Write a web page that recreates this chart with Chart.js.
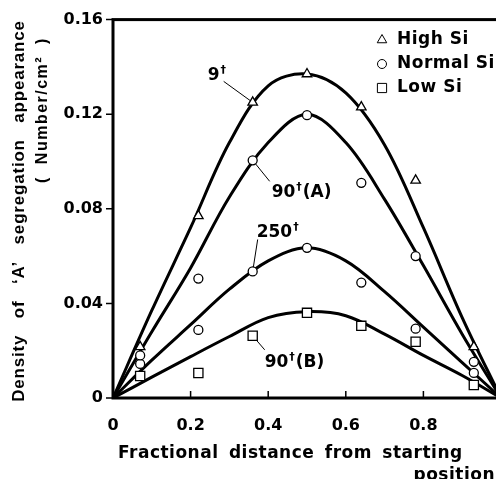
<!DOCTYPE html>
<html>
<head>
<meta charset="utf-8">
<script src="https://cdn.jsdelivr.net/npm/chart.js@4.4.1/dist/chart.umd.min.js"></script>
<style>
  html, body { margin: 0; padding: 0; background: #fff; overflow: hidden; }
  #wrap { width: 512px; height: 479px; }
</style>
</head>
<body>
<div id="wrap"><canvas id="segChart" width="512" height="479"></canvas></div>
<script>
// Sampling positions along the casting (fractional distance)
const samplePositions = [0.07, 0.22, 0.36, 0.5, 0.64, 0.78, 0.93];
// Measured densities (Number/cm2)
const highSi9t = [0.0216, 0.077, 0.125, 0.137, 0.123, 0.092, 0.0216];
const normalSi90tA = [0.018, 0.0505, 0.1005, 0.1196, 0.091, 0.060, 0.0153];
const normalSi250t = [0.0144, 0.0288, 0.0535, 0.0635, 0.0488, 0.0293, 0.0106];
const lowSi90tB = [0.0093, 0.0106, 0.0263, 0.036, 0.0305, 0.0238, 0.0055];

// Smoothed curves, read every 0.1 along the distance
const curvePositions = [0, 0.1, 0.2, 0.3, 0.4, 0.5, 0.6, 0.7, 0.8, 0.9, 1.0];
const curve9t = [0, 0.037, 0.072, 0.108, 0.132, 0.137, 0.129, 0.107, 0.072, 0.034, 0];
const curve90tA = [0, 0.028, 0.055, 0.085, 0.108, 0.120, 0.108, 0.084, 0.056, 0.027, 0];
const curve250t = [0, 0.016, 0.031, 0.046, 0.058, 0.0635, 0.058, 0.045, 0.030, 0.015, 0];
const curve90tB = [0, 0.0088, 0.0175, 0.026, 0.034, 0.0365, 0.0348, 0.027, 0.018, 0.0095, 0];

const xTicks = [0, 0.2, 0.4, 0.6, 0.8];
const yTicks = [0, 0.04, 0.08, 0.12, 0.16];

const legendLabels = ['High Si', 'Normal Si', 'Low Si'];
const legendStyles = ['triangle', 'circle', 'rect'];

// Curve tags: main text, superscript, trailing text
const tagMain = ['9', '90', '250', '90'];
const tagTail = ['', '(A)', '', '(B)'];
const tagSup = '\u2020';

const BOLD_SANS = '"DejaVu Sans", sans-serif';
const HELV = '"Liberation Sans", Arial, sans-serif';

function toPoints(xs, ys) {
   return xs.map((x, i) => ({ x: x, y: ys[i] }));
}

function curveDataset(values) {
   return {
      data: toPoints(curvePositions, values),
      showLine: true,
      borderColor: '#000',
      borderWidth: 3,
      pointRadius: 0,
      tension: 0.35,
      order: 2
   };
}

function markerDataset(values, style, radius) {
   return {
      data: toPoints(samplePositions, values),
      showLine: false,
      pointStyle: style,
      pointRadius: radius,
      pointBackgroundColor: '#fff',
      pointBorderColor: '#000',
      pointBorderWidth: 1.3,
      order: 0
   };
}

// Frame (top, left, bottom) plus the tick marks
const framePlugin = {
   id: 'frame',
   afterDatasetsDraw(chart) {
      const { ctx, chartArea: a, scales: { x, y } } = chart;
      ctx.save();
      ctx.strokeStyle = '#000';
      ctx.lineWidth = 3;
      ctx.lineCap = 'square';
      ctx.strokeRect(a.left, a.top, a.right - a.left, a.bottom - a.top);

      ctx.lineWidth = 1.5;
      ctx.lineCap = 'butt';
      ctx.beginPath();
      yTicks.forEach(v => {
         const py = y.getPixelForValue(v);
         ctx.moveTo(a.left - 7, py);
         ctx.lineTo(a.left, py);
      });
      xTicks.forEach(v => {
         if (v === 0) return;
         const px = x.getPixelForValue(v);
         ctx.moveTo(px, a.bottom);
         ctx.lineTo(px, a.bottom - 7);
      });
      ctx.stroke();
      ctx.restore();
   }
};

// Leader lines sit under the markers, so draw them before datasets
const tagOffsets = [
   { lx: -29, ly: -21, tx: -45, ty: -22 },
   { lx: 17, ly: 21, tx: 19, ty: 37 },
   { lx: 5, ly: -32, tx: 4, ty: -34 },
   { lx: 12, ly: 14, tx: 12, ty: 31 }
];
const tagSeries = [highSi9t, normalSi90tA, normalSi250t, lowSi90tB];
const TAG_INDEX = 2;

function tagAnchor(chart, i) {
   const { x, y } = chart.scales;
   return {
      px: x.getPixelForValue(samplePositions[TAG_INDEX]),
      py: y.getPixelForValue(tagSeries[i][TAG_INDEX])
   };
}

const tagPlugin = {
   id: 'curveTags',
   beforeDatasetsDraw(chart) {
      const ctx = chart.ctx;
      ctx.save();
      ctx.strokeStyle = '#000';
      ctx.lineWidth = 1;
      tagOffsets.forEach((o, i) => {
         const p = tagAnchor(chart, i);
         ctx.beginPath();
         ctx.moveTo(p.px, p.py);
         ctx.lineTo(p.px + o.lx, p.py + o.ly);
         ctx.stroke();
      });
      ctx.restore();
   },
   afterDraw(chart) {
      const ctx = chart.ctx;
      ctx.save();
      ctx.fillStyle = '#000';
      ctx.textAlign = 'left';
      ctx.textBaseline = 'alphabetic';
      tagOffsets.forEach((o, i) => {
         const p = tagAnchor(chart, i);
         let tx = p.px + o.tx;
         const ty = p.py + o.ty;
         ctx.font = 'bold 17px ' + BOLD_SANS;
         ctx.fillText(tagMain[i], tx, ty);
         tx += ctx.measureText(tagMain[i]).width + 1;
         ctx.font = 'bold 11px ' + BOLD_SANS;
         ctx.fillText(tagSup, tx, ty - 7);
         tx += ctx.measureText(tagSup).width + 1;
         if (tagTail[i]) {
            ctx.font = 'bold 17px ' + BOLD_SANS;
            ctx.fillText(tagTail[i], tx, ty);
         }
      });
      ctx.restore();
   }
};

// Legend in the upper right corner of the plot
const legendPlugin = {
   id: 'cornerLegend',
   afterDraw(chart) {
      const ctx = chart.ctx;
      const rows = [40, 64, 88];
      const radii = [5.5, 4.5, 6.5];
      ctx.save();
      legendLabels.forEach((label, i) => {
         ctx.fillStyle = '#fff';
         ctx.strokeStyle = '#000';
         Chart.helpers.drawPoint(ctx, {
            pointStyle: legendStyles[i],
            radius: radii[i],
            rotation: 0,
            borderWidth: 1.3
         }, 382, rows[i]);
         ctx.fillStyle = '#000';
         ctx.font = 'bold 17px ' + BOLD_SANS;
         ctx.textAlign = 'left';
         ctx.textBaseline = 'middle';
         ctx.letterSpacing = '0.5px';
         ctx.fillText(label, 397, rows[i]);
      });
      ctx.restore();
   }
};

// Axis titles
const titlePlugin = {
   id: 'axisTitles',
   afterDraw(chart) {
      const ctx = chart.ctx;
      ctx.save();
      ctx.fillStyle = '#000';

      ctx.save();
      ctx.translate(19, 211);
      ctx.rotate(-Math.PI / 2);
      ctx.textAlign = 'center';
      ctx.textBaseline = 'middle';
      ctx.font = 'bold 17px ' + HELV;
      ctx.letterSpacing = '0.8px';
      ctx.wordSpacing = '11px';
      ctx.fillText('Density of \u2018A\u2019 segregation appearance', 0, 0);
      ctx.restore();

      ctx.save();
      ctx.translate(43, 110);
      ctx.rotate(-Math.PI / 2);
      ctx.textAlign = 'center';
      ctx.textBaseline = 'middle';
      ctx.font = 'bold 16px ' + HELV;
      ctx.letterSpacing = '1.5px';
      ctx.wordSpacing = '6px';
      ctx.fillText('( Number/cm\u00b2 )', 0, 0);
      ctx.restore();

      ctx.font = 'bold 17px ' + BOLD_SANS;
      ctx.letterSpacing = '0.5px';
      ctx.wordSpacing = '4px';
      ctx.textAlign = 'left';
      ctx.textBaseline = 'alphabetic';
      ctx.fillText('Fractional distance from starting', 118, 458);
      ctx.textAlign = 'right';
      ctx.fillText('position', 495, 480);
      ctx.restore();
   }
};

new Chart(document.getElementById('segChart'), {
   type: 'scatter',
   data: {
      datasets: [
         curveDataset(curve9t),
         curveDataset(curve90tA),
         curveDataset(curve250t),
         curveDataset(curve90tB),
         markerDataset(highSi9t, 'triangle', 5.5),
         markerDataset(normalSi90tA, 'circle', 4.5),
         markerDataset(normalSi250t, 'circle', 4.5),
         markerDataset(lowSi90tB, 'rect', 6.5)
      ]
   },
   options: {
      responsive: false,
      animation: false,
      layout: {
         padding: { top: 19, right: 11, left: 0, bottom: 0 }
      },
      plugins: {
         legend: { display: false },
         tooltip: { enabled: false }
      },
      scales: {
         x: {
            type: 'linear',
            min: 0,
            max: 1,
            afterBuildTicks: s => { s.ticks = xTicks.map(v => ({ value: v })); },
            afterFit: s => { s.height = 81; },
            grid: { display: false, drawTicks: false },
            border: { display: false },
            ticks: {
               padding: 18,
               color: '#000',
               font: { family: BOLD_SANS, size: 16, weight: 'bold' },
               callback: v => (v === 0 ? '0' : v.toFixed(1))
            }
         },
         y: {
            type: 'linear',
            min: 0,
            max: 0.16,
            afterBuildTicks: s => { s.ticks = yTicks.map(v => ({ value: v })); },
            afterFit: s => { s.width = 113; },
            grid: { display: false, drawTicks: false },
            border: { display: false },
            ticks: {
               padding: 10,
               color: '#000',
               font: { family: BOLD_SANS, size: 16, weight: 'bold' },
               callback: v => (v === 0 ? '0' : v.toFixed(2))
            }
         }
      }
   },
   plugins: [framePlugin, tagPlugin, legendPlugin, titlePlugin]
});
</script>
</body>
</html>
